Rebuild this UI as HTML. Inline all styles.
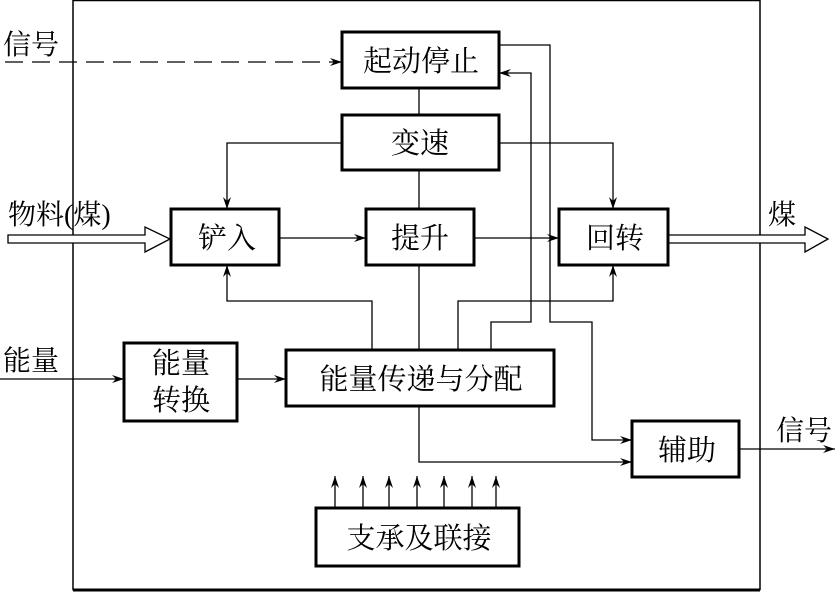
<!DOCTYPE html>
<html><head><meta charset="utf-8"><style>
html,body{margin:0;padding:0;background:#fff;}
svg{display:block;}
text{font-family:"Liberation Serif","Noto Serif CJK SC","Noto Sans CJK SC",serif;fill:#000;}
</style></head><body>
<svg width="836" height="592" viewBox="0 0 836 592" xmlns="http://www.w3.org/2000/svg">
<defs>
<marker id="a" viewBox="0 0 12 8" refX="12" refY="4" markerWidth="12" markerHeight="8" markerUnits="userSpaceOnUse" orient="auto">
<path d="M0,0 L12,4 L0,8 L4,4 z" fill="#000"/>
</marker>
</defs>
<rect x="73" y="0.5" width="687" height="589" fill="none" stroke="#000" stroke-width="1.5"/>
<line x1="73" y1="590" x2="760" y2="590" stroke="#000" stroke-width="3"/>
<g fill="#fff" stroke="#000" stroke-width="1.3">
<path d="M8,235 H145 V227 L170,239 L145,252 V243 H8 Z"/>
<path d="M668,235 H805 V227 L828,239 L805,252 V243 H668 Z"/>
</g>
<g fill="none" stroke="#000" stroke-width="1.3">
<line x1="5" y1="62" x2="342" y2="62" stroke-dasharray="18,9" marker-end="url(#a)"/>
<line x1="419" y1="88" x2="419" y2="115"/>
<line x1="419" y1="170" x2="419" y2="209"/>
<line x1="419" y1="265" x2="419" y2="350"/>
<polyline points="342,143 227,143 227,209" marker-end="url(#a)"/>
<polyline points="499,143 613,143 613,209" marker-end="url(#a)"/>
<line x1="279" y1="238" x2="366" y2="238" marker-end="url(#a)"/>
<line x1="474" y1="238" x2="559" y2="238" marker-end="url(#a)"/>
<polyline points="372,350 372,301 227,301 227,265" marker-end="url(#a)"/>
<polyline points="458,350 458,301 613,301 613,265" marker-end="url(#a)"/>
<polyline points="491,350 491,322 531,322 531,73 499,73" marker-end="url(#a)"/>
<polyline points="499,45 550,45 550,322 592,322 592,440 632,440" marker-end="url(#a)"/>
<polyline points="419,406 419,462 632,462" marker-end="url(#a)"/>
<line x1="739" y1="449" x2="835" y2="449" marker-end="url(#a)"/>
<line x1="0" y1="379" x2="124" y2="379" marker-end="url(#a)"/>
<line x1="237" y1="379" x2="286" y2="379" marker-end="url(#a)"/>
<line x1="335" y1="508" x2="335" y2="476" marker-end="url(#a)"/>
<line x1="363" y1="508" x2="363" y2="476" marker-end="url(#a)"/>
<line x1="389" y1="508" x2="389" y2="476" marker-end="url(#a)"/>
<line x1="417" y1="508" x2="417" y2="476" marker-end="url(#a)"/>
<line x1="444" y1="508" x2="444" y2="476" marker-end="url(#a)"/>
<line x1="472" y1="508" x2="472" y2="476" marker-end="url(#a)"/>
<line x1="496" y1="508" x2="496" y2="476" marker-end="url(#a)"/>
</g>
<g fill="#fff" stroke="#000" stroke-width="3">
<rect x="342" y="32" width="157" height="56"/>
<rect x="342" y="115" width="157" height="55"/>
<rect x="171" y="209" width="108" height="56"/>
<rect x="366" y="209" width="108" height="56"/>
<rect x="559" y="209" width="109" height="56"/>
<rect x="124" y="343" width="113" height="78"/>
<rect x="286" y="350" width="268" height="56"/>
<rect x="632" y="421" width="107" height="56"/>
<rect x="316" y="508" width="203" height="58"/>
</g>
<g font-size="29" text-anchor="middle">
<text x="421" y="71">起动停止</text>
<text x="420" y="153">变速</text>
<text x="227" y="248">铲入</text>
<text x="420" y="248">提升</text>
<text x="615" y="248">回转</text>
<text x="181" y="373">能量</text>
<text x="181" y="410">转换</text>
<text x="421" y="389">能量传递与分配</text>
<text x="687" y="460">辅助</text>
<text x="419" y="548">支承及联接</text>
</g>
<g font-size="28">
<text x="3" y="54">信号</text>
<text x="8" y="224">物料(煤)</text>
<text x="768" y="224">煤</text>
<text x="3" y="370">能量</text>
<text x="776" y="440">信号</text>
</g>
</svg>
</body></html>
